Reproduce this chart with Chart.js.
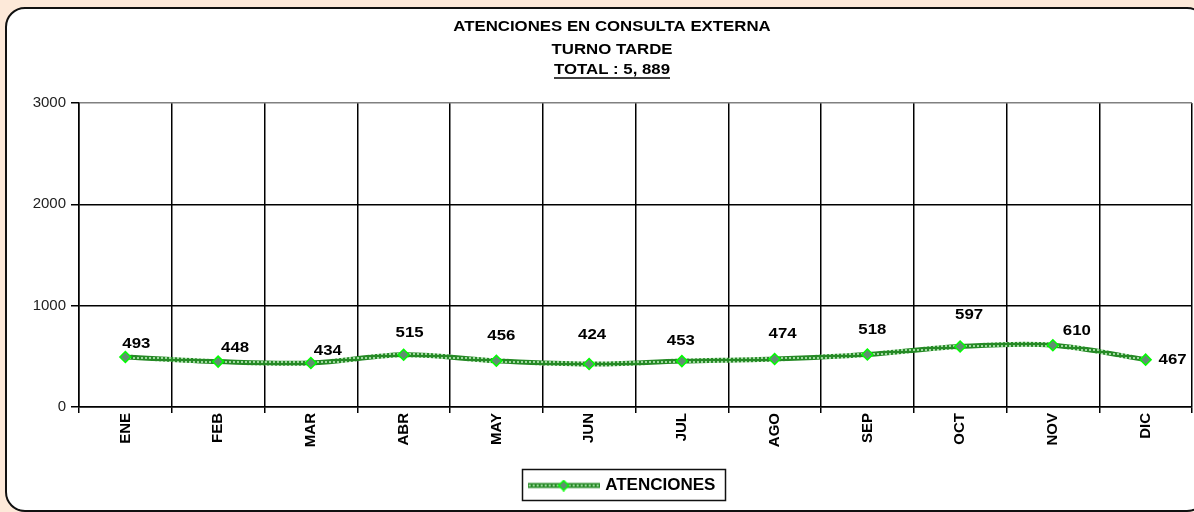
<!DOCTYPE html>
<html>
<head>
<meta charset="utf-8">
<script src="https://cdn.jsdelivr.net/npm/chart.js@4.4.1/dist/chart.umd.min.js"></script>
<style>
  html, body { margin: 0; padding: 0; background: #fde9d9; width: 1194px; height: 512px; overflow: hidden; }
  #panel { position: absolute; left: 5px; top: 7px; width: 1198px; height: 501px; border: 2px solid #111; border-radius: 20px; background: #fff; }
  #wrap { position: absolute; left: 0; top: 0; width: 1194px; height: 512px; }
</style>
</head>
<body>
<div id="panel"></div>
<div id="wrap"><canvas id="c" width="1194" height="512"></canvas></div>
<script>
const titleLines = ['ATENCIONES EN CONSULTA EXTERNA', 'TURNO TARDE', 'TOTAL : 5, 889'];
const categories = ['ENE', 'FEB', 'MAR', 'ABR', 'MAY', 'JUN', 'JUL', 'AGO', 'SEP', 'OCT', 'NOV', 'DIC'];
const seriesName = 'ATENCIONES';
const atenciones = [493, 448, 434, 515, 456, 424, 453, 474, 518, 597, 610, 467];
const yTicks = [0, 1000, 2000, 3000];

// label placement (pixels relative to point), as in the reference
const labelDx = [11, 17, 17, 6, 5, 3, -1, 8, 5, 9, 24, 27];
const labelDy = [-13, -14, -12, -22, -25, -29, -20, -25, -25, -32, -14, 0];

const FONT = '"Liberation Sans", Arial, sans-serif';
const PLOT_RIGHT = 1192;

function makePattern() {
  const p = document.createElement('canvas');
  p.width = 4; p.height = 4;
  const g = p.getContext('2d');
  g.fillStyle = '#268a26';
  g.fillRect(0, 0, 4, 4);
  g.fillStyle = '#9fd89f';
  g.fillRect(1, 1, 2, 2);
  return g.createPattern(p, 'repeat');
}
const linePattern = makePattern();

function legendSample() {
  const c = document.createElement('canvas');
  c.width = 72; c.height = 12;
  const g = c.getContext('2d');
  g.strokeStyle = linePattern;
  g.lineWidth = 5;
  g.beginPath(); g.moveTo(0, 6); g.lineTo(72, 6); g.stroke();
  g.fillStyle = '#5f8f70';
  g.strokeStyle = '#00ff00';
  g.lineWidth = 1.5;
  g.beginPath(); g.moveTo(36, 1); g.lineTo(41, 6); g.lineTo(36, 11); g.lineTo(31, 6); g.closePath();
  g.fill(); g.stroke();
  return c;
}
const sample = legendSample();

function wideText(ctx, text, x, y, sx) {
  ctx.save();
  ctx.translate(x, y);
  ctx.scale(sx, 1);
  ctx.fillText(text, 0, 0);
  ctx.restore();
}

const titlePlugin = {
  id: 'multiTitle',
  afterDraw(chart) {
    const ctx = chart.ctx;
    const cx = 612;
    const sx = 1.2;
    ctx.save();
    ctx.fillStyle = '#000';
    ctx.font = 'bold 14px ' + FONT;
    ctx.textAlign = 'center';
    ctx.textBaseline = 'middle';
    const ys = [27, 50, 70];
    titleLines.forEach((t, i) => wideText(ctx, t, cx, ys[i], sx));
    const w = ctx.measureText(titleLines[2]).width * sx;
    ctx.strokeStyle = '#000';
    ctx.lineWidth = 1.3;
    ctx.beginPath();
    ctx.moveTo(cx - w / 2, 78);
    ctx.lineTo(cx + w / 2, 78);
    ctx.stroke();
    ctx.restore();
  }
};

const labelPlugin = {
  id: 'valueLabels',
  afterDatasetsDraw(chart) {
    const ctx = chart.ctx;
    const meta = chart.getDatasetMeta(0);
    ctx.save();
    ctx.fillStyle = '#000';
    ctx.font = 'bold 15px ' + FONT;
    ctx.textAlign = 'center';
    ctx.textBaseline = 'middle';
    meta.data.forEach((pt, i) => {
      wideText(ctx, String(atenciones[i]), pt.x + labelDx[i], pt.y + labelDy[i], 1.12);
    });
    ctx.restore();
  }
};

// extend the plot area to the right edge like the reference
const areaPlugin = {
  id: 'plotArea',
  afterLayout(chart) {
    const x = chart.scales.x;
    chart.chartArea.right = PLOT_RIGHT;
    chart.chartArea.width = PLOT_RIGHT - chart.chartArea.left;
    x.right = PLOT_RIGHT;
    x.width = PLOT_RIGHT - x.left;
    x.configure();
    const y = chart.scales.y;
    y.configure();
  }
};

const legendBoxPlugin = {
  id: 'legendBox',
  afterLayout(chart) {
    const lg = chart.legend;
    if (lg) { lg.left += 27; lg.right += 27; }
  },
  afterDraw(chart) {
    const lg = chart.legend;
    if (!lg || !lg.legendHitBoxes || !lg.legendHitBoxes.length) return;
    const hb = lg.legendHitBoxes[0];
    const ctx = chart.ctx;
    ctx.save();
    ctx.strokeStyle = '#111';
    ctx.lineWidth = 1.5;
    ctx.strokeRect(Math.round(hb.left) - 8.5, Math.round(hb.top) - 7.5, Math.round(hb.width) + 18, Math.round(hb.height) + 14);
    ctx.restore();
  }
};

new Chart(document.getElementById('c'), {
  type: 'line',
  data: {
    labels: categories,
    datasets: [{
      label: seriesName,
      data: atenciones,
      borderColor: linePattern,
      borderWidth: 5,
      tension: 0.35,
      pointStyle: 'rectRot',
      pointRadius: 5.5,
      pointHoverRadius: 5.5,
      pointBackgroundColor: '#5f8f70',
      pointBorderColor: '#00ff00',
      pointBorderWidth: 1.5,
      fill: false
    }]
  },
  options: {
    responsive: false,
    animation: false,
    events: [],
    layout: { padding: { top: 103, left: 0, right: 2, bottom: 8 } },
    plugins: {
      title: { display: false },
      tooltip: { enabled: false },
      legend: {
        position: 'bottom',
        labels: {
          usePointStyle: true,
          pointStyleWidth: 66,
          padding: 14,
          color: '#000',
          font: { family: FONT, size: 17, weight: 'bold' },
          generateLabels: () => [{
            text: seriesName,
            pointStyle: sample,
            datasetIndex: 0,
            hidden: false,
            fillStyle: 'transparent',
            strokeStyle: 'transparent',
            fontColor: '#000'
          }]
        }
      }
    },
    scales: {
      x: {
        type: 'category',
        offset: true,
        afterFit(scale) { scale.height = 56; scale.paddingLeft = 0; scale.paddingRight = 0; },
        grid: { display: true, offset: true, color: '#000', lineWidth: 1.5, drawTicks: true, tickLength: 6, tickColor: '#000' },
        border: { display: true, color: '#000', width: 1.5 },
        ticks: {
          minRotation: 90, maxRotation: 90, autoSkip: false, padding: 0,
          color: '#000',
          font: { family: FONT, size: 15, weight: 'bold' }
        }
      },
      y: {
        min: 0, max: 3000,
        afterFit(scale) { scale.width = 79; },
        afterBuildTicks(scale) { scale.ticks = yTicks.map(v => ({ value: v })); },
        grid: { color: (c) => c.tick && c.tick.value === 3000 ? '#808080' : '#000', lineWidth: 1.5, tickLength: 8, tickColor: '#000' },
        border: { display: true, color: '#000', width: 1.5 },
        ticks: {
          padding: 5,
          color: '#222',
          font: { family: FONT, size: 15 },
          callback: (v) => String(v)
        }
      }
    }
  },
  plugins: [areaPlugin, titlePlugin, labelPlugin, legendBoxPlugin]
});
</script>
</body>
</html>
